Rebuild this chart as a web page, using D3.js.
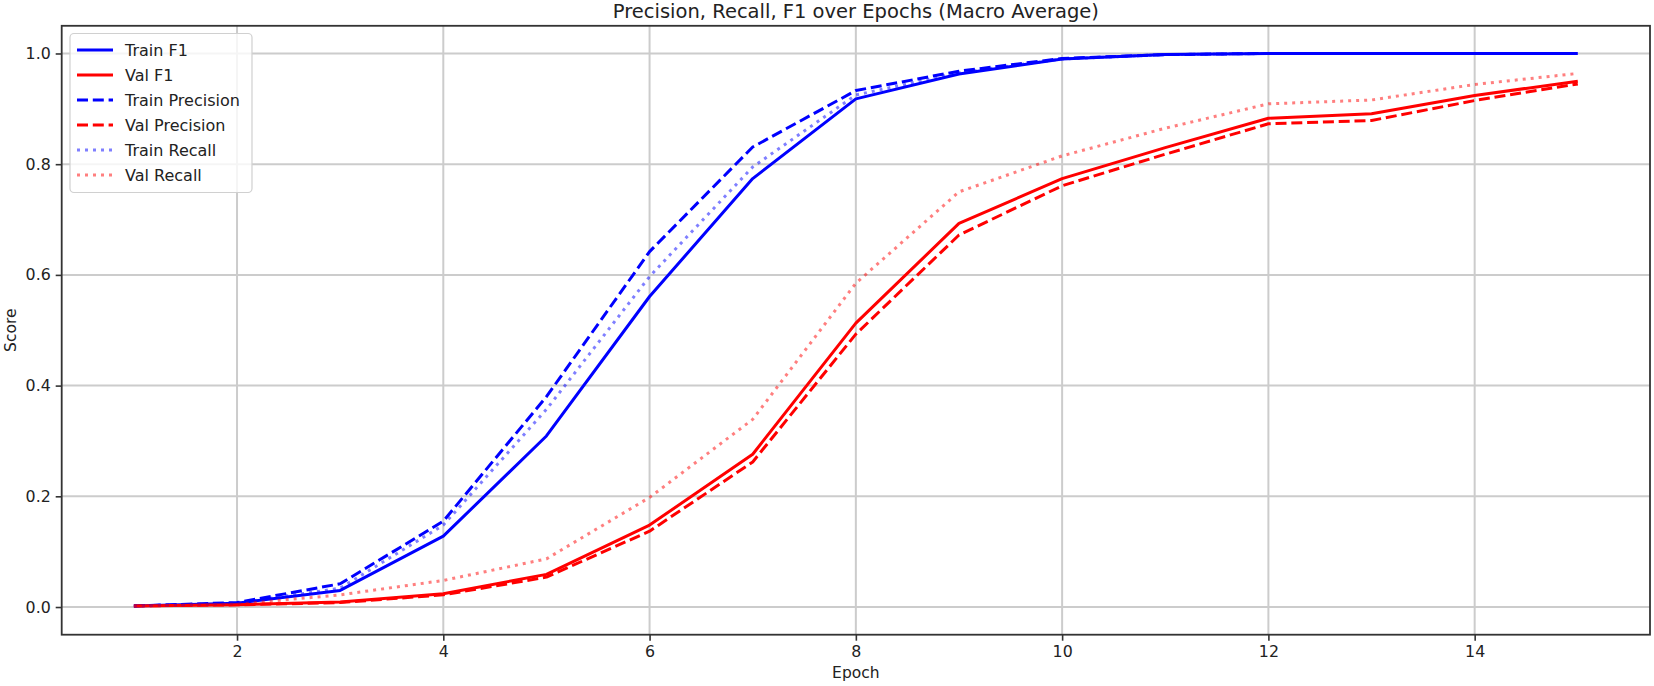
<!DOCTYPE html>
<html><head><meta charset="utf-8">
<script src="https://cdn.jsdelivr.net/npm/d3@7"></script>
<style>
html,body{margin:0;padding:0;background:#fff;}
svg{display:block;font-family:"DejaVu Sans",sans-serif;}
</style></head>
<body>
<svg id="chart" width="1654" height="686"></svg>
<script>
const epochs = [1,2,3,4,5,6,7,8,9,10,11,12,13,14,15];
const trainF1 = [0.002,0.007,0.030,0.128,0.309,0.561,0.774,0.918,0.963,0.990,0.998,1.0,1.0,1.0,1.0];
const valF1 = [0.002,0.004,0.009,0.024,0.059,0.148,0.276,0.513,0.693,0.774,0.830,0.883,0.891,0.924,0.950];
const trainPrecision = [0.002,0.008,0.042,0.155,0.380,0.642,0.831,0.933,0.968,0.991,0.998,1.0,1.0,1.0,1.0];
const valPrecision = [0.002,0.004,0.008,0.022,0.054,0.137,0.262,0.493,0.672,0.761,0.818,0.873,0.879,0.915,0.945];
const trainRecall = [0.002,0.007,0.034,0.148,0.357,0.597,0.795,0.925,0.965,0.990,0.998,1.0,1.0,1.0,1.0];
const valRecall = [0.002,0.005,0.022,0.048,0.087,0.198,0.339,0.585,0.750,0.815,0.865,0.909,0.916,0.944,0.964];
const xTicks = [2,4,6,8,10,12,14];
const yTicks = [0.0,0.2,0.4,0.6,0.8,1.0];
const seriesNames = ["Train F1","Val F1","Train Precision","Val Precision","Train Recall","Val Recall"];
const seriesValues = [trainF1, valF1, trainPrecision, valPrecision, trainRecall, valRecall];
const title = "Precision, Recall, F1 over Epochs (Macro Average)";

const styles = [
  {color:"#0000ff", dash:null, opacity:1},
  {color:"#ff0000", dash:null, opacity:1},
  {color:"#0000ff", dash:"11,4.8", opacity:1},
  {color:"#ff0000", dash:"11,4.8", opacity:1},
  {color:"#0000ff", dash:"3,5", opacity:0.5},
  {color:"#ff0000", dash:"3,5", opacity:0.5}
];

const svg = d3.select("#chart");
const L = 61.7, R = 1650, T = 25.8, B = 634.7;
const x = d3.scaleLinear().domain([0.3, 15.7]).range([L, R]);
const y = d3.scaleLinear().domain([-0.05, 1.05]).range([B, T]);

// grid
const grid = svg.append("g");
xTicks.forEach(t => grid.append("line").attr("x1", x(t)).attr("x2", x(t)).attr("y1", T).attr("y2", B)
  .attr("stroke", "#cccccc").attr("stroke-width", 2));
yTicks.forEach(t => grid.append("line").attr("x1", L).attr("x2", R).attr("y1", y(t)).attr("y2", y(t))
  .attr("stroke", "#cccccc").attr("stroke-width", 2));

// lines
const line = d3.line().x((d,i) => x(epochs[i])).y(d => y(d));
seriesValues.forEach((vals, k) => {
  const s = styles[k];
  const p = svg.append("path").datum(vals).attr("d", line)
    .attr("fill", "none").attr("stroke", s.color).attr("stroke-width", 3)
    .attr("stroke-opacity", s.opacity).attr("stroke-linejoin", "round");
  if (s.dash) p.attr("stroke-dasharray", s.dash);
});

// axes
const xAxis = d3.axisBottom(x).tickValues(xTicks).tickSize(6).tickPadding(5).tickFormat(d3.format("d"));
const yAxis = d3.axisLeft(y).tickValues(yTicks).tickSize(6).tickPadding(5).tickFormat(d3.format(".1f"));
const gx = svg.append("g").attr("transform", `translate(0,${B})`).call(xAxis);
const gy = svg.append("g").attr("transform", `translate(${L},0)`).call(yAxis);
[gx, gy].forEach(g => {
  g.select(".domain").remove();
  g.selectAll(".tick line").attr("stroke", "#333").attr("stroke-width", 1.6);
  g.selectAll(".tick text").attr("fill", "#222").style("font-size", "15.8px").style("font-family", "DejaVu Sans");
});
svg.append("rect").attr("x", L).attr("y", T).attr("width", R - L).attr("height", B - T)
  .attr("fill", "none").attr("stroke", "#333").attr("stroke-width", 1.8);

// labels
svg.append("text").attr("x", (L + R) / 2).attr("y", 17.5).attr("text-anchor", "middle")
  .style("font-size", "19.5px").attr("fill", "#222").text(title);
svg.append("text").attr("x", (L + R) / 2).attr("y", 678).attr("text-anchor", "middle")
  .style("font-size", "15.5px").attr("fill", "#222").text("Epoch");
svg.append("text").attr("transform", `translate(16,${(T + B) / 2}) rotate(-90)`).attr("text-anchor", "middle")
  .style("font-size", "15.5px").attr("fill", "#222").text("Score");

// legend
const lg = svg.append("g");
lg.append("rect").attr("x", 70).attr("y", 33.5).attr("width", 182).attr("height", 159).attr("rx", 4)
  .attr("fill", "#fff").attr("fill-opacity", 0.8).attr("stroke", "#d0d0d0").attr("stroke-width", 1.2);
seriesNames.forEach((name, k) => {
  const s = styles[k];
  const yy = 50 + k * 25;
  const l = lg.append("line").attr("x1", 77).attr("x2", 113).attr("y1", yy).attr("y2", yy)
    .attr("stroke", s.color).attr("stroke-width", 3).attr("stroke-opacity", s.opacity);
  if (s.dash) l.attr("stroke-dasharray", s.dash);
  lg.append("text").attr("x", 125).attr("y", yy).attr("dy", "0.35em")
    .style("font-size", "16px").attr("fill", "#222").text(name);
});
</script>
</body></html>
